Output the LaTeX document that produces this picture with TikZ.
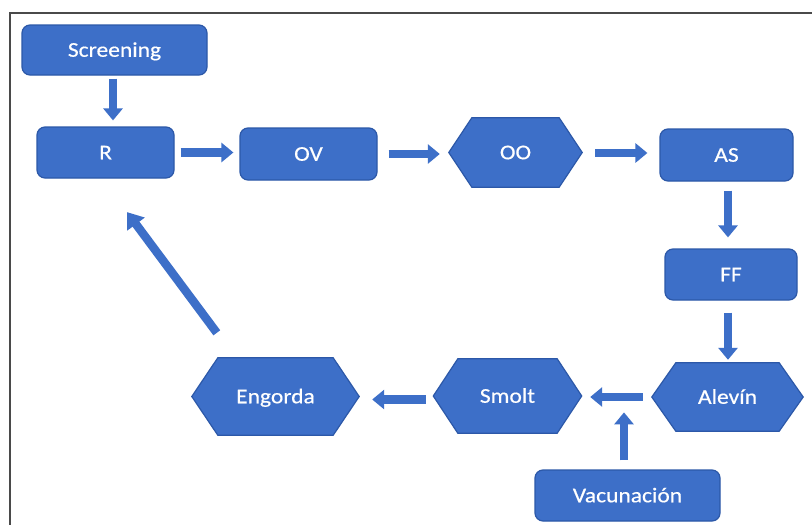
\documentclass[tikz,border=0pt]{standalone}
\usepackage{fontspec}
\setmainfont{Carlito}[FakeStretch=1.12,FakeBold=0.5]
\usetikzlibrary{arrows.meta,calc,backgrounds}
\definecolor{boxblue}{HTML}{3D6FC8}
\definecolor{boxedge}{HTML}{2C58A8}
\definecolor{framegray}{HTML}{4A4A4A}
\tikzset{
  label text/.style={text=white, font=\fontsize{21}{25}\selectfont,
    inner sep=0pt, text height=13.5pt, text depth=0pt, align=center},
  stage/.style={label text, rounded corners=8pt, fill=boxblue,
    draw=boxedge, line width=1.2pt},
  hexcore/.style={label text},
  hexfill/.style={fill=boxblue, draw=boxedge, line width=1.2pt,
    line join=miter},
  flow/.style={draw=boxblue, line width=8.5pt,
    -{Triangle[width=19pt,length=12pt]}},
}
% hexagon behind a core node: flat top/bottom, pointed left and right
\newcommand\hexback[2]{%
  \begin{scope}[on background layer]
    \path[hexfill] (#1.north west) -- (#1.north east)
      -- ($(#1.east)+(#2,0)$) -- (#1.south east) -- (#1.south west)
      -- ($(#1.west)+(-#2,0)$) -- cycle;
  \end{scope}}
\begin{document}
\begin{tikzpicture}[x=1pt,y=-1pt]
  \useasboundingbox (0,0) rectangle (812,525);
  \begin{scope}[on background layer]
    \fill[white] (0,0) rectangle (812,525);
  \end{scope}
  \clip (0,0) rectangle (812,525);
  % outer frame
  \draw[framegray, line width=1.6pt] (10,13) rectangle (840,560);

  % rounded stages
  \node[stage, minimum width=185pt, minimum height=50pt] (scr) at (114.5,50) {Screening};
  \node[stage, minimum width=137pt, minimum height=51pt] (r)   at (105.5,152.5) {R};
  \node[stage, minimum width=137pt, minimum height=52pt] (ov)  at (308.5,154) {OV};
  \node[stage, minimum width=133pt, minimum height=52pt] (as)  at (726.5,155) {AS};
  \node[stage, minimum width=132pt, minimum height=51pt] (ff)  at (731,274.5) {FF};
  \node[stage, minimum width=185pt, minimum height=51pt] (vac) at (627.5,495.5) {Vacunación};

  % hexagonal stages
  \node[hexcore, minimum width=87pt,  minimum height=69pt] (oo)  at (515.5,152.5) {OO};
  \hexback{oo}{23}
  \node[hexcore, minimum width=103pt, minimum height=68pt] (alv) at (727.5,397) {Alevín};
  \hexback{alv}{24}
  \node[hexcore, minimum width=99pt,  minimum height=74pt] (smo) at (507.5,396) {Smolt};
  \hexback{smo}{24.5}
  \node[hexcore, minimum width=115pt, minimum height=77pt] (eng) at (275.5,396.5) {Engorda};
  \hexback{eng}{26}

  % flow arrows
  \draw[flow, shorten <=3pt, shorten >=6pt] ($(scr.south)+(-1.5,0)$) -- ($(scr.south |- r.north)+(-1.5,0)$);
  \draw[flow, shorten <=6pt, shorten >=6pt] (r.east) -- (r.east -| ov.west);
  \draw[flow, shorten <=11pt, shorten >=32pt] (ov.east) -- (ov.east -| oo.west);
  \draw[flow, shorten <=36pt, shorten >=12pt] ($(oo.east)+(0,0.5)$) -- ($(oo.east -| as.west)+(0,0.5)$);
  \draw[flow, shorten <=9pt, shorten >=11pt] ($(as.south)+(1.5,0)$) -- ($(as.south |- ff.north)+(1.5,0)$);
  \draw[flow, shorten <=12pt, shorten >=3pt] ($(ff.south)+(-3,0)$) -- ($(ff.south |- alv.north)+(-3,0)$);
  \draw[flow, shorten <=33pt, shorten >=33pt] (alv.west) -- (alv.west -| smo.east);
  \coordinate (vtip) at ($(vac.north)+(-3.5,-57)$);
  \draw[flow, shorten <=9pt] ($(vac.north)+(-3.5,0)$) -- (vtip);
  \draw[flow, shorten <=32pt, shorten >=39pt] ($(smo.west)+(0,3.5)$) -- ($(smo.west -| eng.east)+(0,3.5)$);
  \draw[flow, -{Triangle[width=21pt,length=15pt]}] ($(eng.north west)+(-1,-25)$) -- ($(r.south)+(21.5,33.5)$);
\end{tikzpicture}
\end{document}
